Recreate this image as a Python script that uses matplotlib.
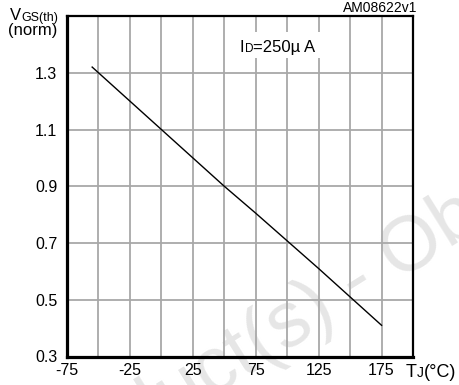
import matplotlib
matplotlib.use("Agg")
import matplotlib.pyplot as plt
from matplotlib.patches import Rectangle

# normalised threshold voltage vs junction temperature
tj = [-55, 0, 50, 75, 125, 175]
vgs_norm = [1.32, 1.1, 0.9, 0.805, 0.61, 0.41]

x_ticks = [-75, -25, 25, 75, 125, 175]
x_grid = list(range(-75, 201, 25))
y_ticks = [0.3, 0.5, 0.7, 0.9, 1.1, 1.3]

plt.rcParams['font.family'] = ['Liberation Sans', 'DejaVu Sans']

W, H = 460, 385
fig = plt.figure(figsize=(4.6, 3.85), dpi=100)
ax = fig.add_axes([67 / W, 1 - 356.5 / H, (413 - 67) / W, (356.5 - 16) / H])
ax.set_facecolor('none')

ax.plot(tj, vgs_norm, color='black', lw=1.0, zorder=3)

ax.set_xlim(-75, 200)
ax.set_ylim(0.3, 1.5)
ax.set_xticks(x_ticks)
ax.set_xticklabels([str(v) for v in x_ticks])
ax.set_xticks(x_grid, minor=True)
ax.set_yticks(y_ticks)
ax.set_yticklabels(['%.1f' % v for v in y_ticks])
ax.tick_params(which='both', length=0, labelsize=11.5)
ax.tick_params(axis='y', pad=7)
ax.tick_params(axis='x', pad=5)
ax.set_axisbelow(True)
ax.grid(which='both', color='#a8a8a8', lw=1.3)

for side, lw in [('left', 2.3), ('bottom', 2.3), ('top', 1.6), ('right', 1.6)]:
    ax.spines[side].set_linewidth(lw)
    ax.spines[side].set_color('black')

# white box behind the condition label
ax.add_patch(Rectangle((59, 1.352), 71, 0.09, facecolor='white', edgecolor='none', zorder=1))

# watermark
fig.text(357 / W, 1 - 282 / H, 'Obsolete Product(s) - Obsolete Product(s)', rotation=32,
         fontsize=56, color='#e6e6e6', ha='center', va='center', zorder=-1,
         rotation_mode='anchor')

renderer = fig.canvas.get_renderer()


def put(x, y, parts):
    # x, y in image pixels from top-left, y = baseline
    for s, size in parts:
        t = fig.text(x / W, 1 - y / H, s, fontsize=size, va='baseline', ha='left')
        x += t.get_window_extent(renderer).width


put(10, 20.5, [('V', 12), ('GS(th)', 9)])
put(8, 35, [('(norm)', 12)])
put(240, 52, [('I', 12), ('D', 8.5), ('=250\u00b5 A', 12)])
put(406, 377, [('T', 13), ('J', 10), ('(\u00b0C)', 13)])
fig.text(417 / W, 1 - 12 / H, 'AM08622v1', fontsize=10, ha='right', va='baseline')

fig.savefig('out.png', dpi=100)
